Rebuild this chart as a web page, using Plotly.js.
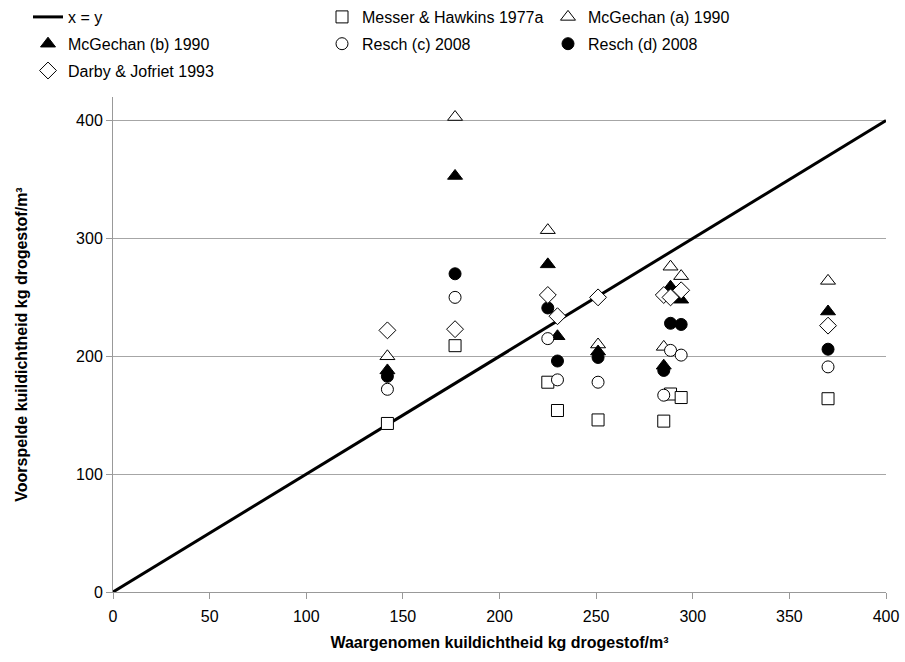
<!DOCTYPE html>
<html>
<head>
<meta charset="utf-8">
<script src="https://cdn.plot.ly/plotly-3.0.1.min.js"></script>
<style>html,body{margin:0;padding:0;background:#fff;}#chart{width:905px;height:662px;}</style>
</head>
<body>
<div id="chart"></div>
<script>
// Observed (waargenomen) silage density per silo
const observed = [142, 177, 225, 230, 251, 285, 288.5, 294, 370];
// Predicted (voorspelde) densities per model
const messerHawkins = [143, 209, 178, 154, 146, 145, 168, 165, 164];
const mcGechanA = [200, 403, 307, null, 210, 208, 276, 268, 264];
const mcGechanB = [188, 353, 278, 217, 204, 192, 259, 248, 238];
const reschC = [172, 250, 215, 180, 178, 167, 205, 201, 191];
const reschD = [183, 270, 241, 196, 199, 188, 228, 227, 206];
const darbyJofriet = [222, 223, 252, 234, 250, 252, 250, 256, 226];
// Reference line x = y
const lineX = [0, 400];
const lineY = [0, 400];
const xTicks = [0, 50, 100, 150, 200, 250, 300, 350, 400];
const yTicks = [0, 100, 200, 300, 400];

const mk = (name, y, symbol, fill, size, legend, group) => ({
  type: 'scatter', mode: 'markers', name: name, x: observed, y: y,
  legend: legend, legendgroup: group,
  marker: {symbol: symbol, size: size, color: fill, line: {color: '#000', width: 1}},
  cliponaxis: false
});

const traces = [
  {type: 'scatter', mode: 'lines', name: 'x = y', x: lineX, y: lineY,
   line: {color: '#000', width: 3}, legend: 'legend', legendgroup: 'g1'},
  mk('Messer &amp; Hawkins 1977a', messerHawkins, 'square', '#fff', 12, 'legend2', 'g2'),
  mk('McGechan (a) 1990', mcGechanA, 'triangle-up', '#fff', 13, 'legend3', 'g3'),
  mk('McGechan (b) 1990', mcGechanB, 'triangle-up', '#000', 13, 'legend', 'g4'),
  mk('Resch (c) 2008', reschC, 'circle', '#fff', 12, 'legend2', 'g5'),
  mk('Resch (d) 2008', reschD, 'circle', '#000', 12, 'legend3', 'g6'),
  mk('Darby &amp; Jofriet 1993', darbyJofriet, 'diamond', '#fff', 13, 'legend', 'g7')
];

const W = 905, H = 662, L = 113, R = 19, T = 97, B = 70;
const plotW = W - L - R, plotH = H - T - B;
const px2x = px => (px - L) / plotW;
const py2y = py => (H - B - py) / plotH;

const font = {family: 'Liberation Sans, Arial, sans-serif', size: 16, color: '#000'};
const legendBase = {
  orientation: 'v', xref: 'paper', yref: 'paper', xanchor: 'left', yanchor: 'top',
  y: py2y(0), bgcolor: 'rgba(0,0,0,0)', borderwidth: 0, font: font,
  traceorder: 'grouped', tracegroupgap: 3
};

const layout = {
  width: W, height: H,
  margin: {l: L, r: R, t: T, b: B, autoexpand: false},
  paper_bgcolor: '#fff', plot_bgcolor: '#fff',
  font: font,
  showlegend: true,
  legend: Object.assign({}, legendBase, {x: px2x(28)}),
  legend2: Object.assign({}, legendBase, {x: px2x(322)}),
  legend3: Object.assign({}, legendBase, {x: px2x(548)}),
  xaxis: {
    range: [0, 400], tickvals: xTicks, ticks: 'outside', ticklen: 6, tickcolor: '#999',
    showline: true, linecolor: '#999', linewidth: 1, showgrid: false, zeroline: false,
    tickfont: font, automargin: false, ticklabelstandoff: 4,
    title: {text: '<b>Waargenomen kuildichtheid kg drogestof/m³</b>', font: font, standoff: 12}
  },
  yaxis: {
    range: [0, 420], tickvals: yTicks, ticks: 'outside', ticklen: 6, tickcolor: '#999',
    showline: true, linecolor: '#999', linewidth: 1, showgrid: true, gridcolor: '#a6a6a6', gridwidth: 1,
    zeroline: false, tickfont: font, automargin: false,
    title: {text: '<b>Voorspelde kuildichtheid kg drogestof/m³</b>', font: font, standoff: 44}
  }
};

Plotly.newPlot('chart', traces, layout, {displayModeBar: false, staticPlot: true});
</script>
</body>
</html>
